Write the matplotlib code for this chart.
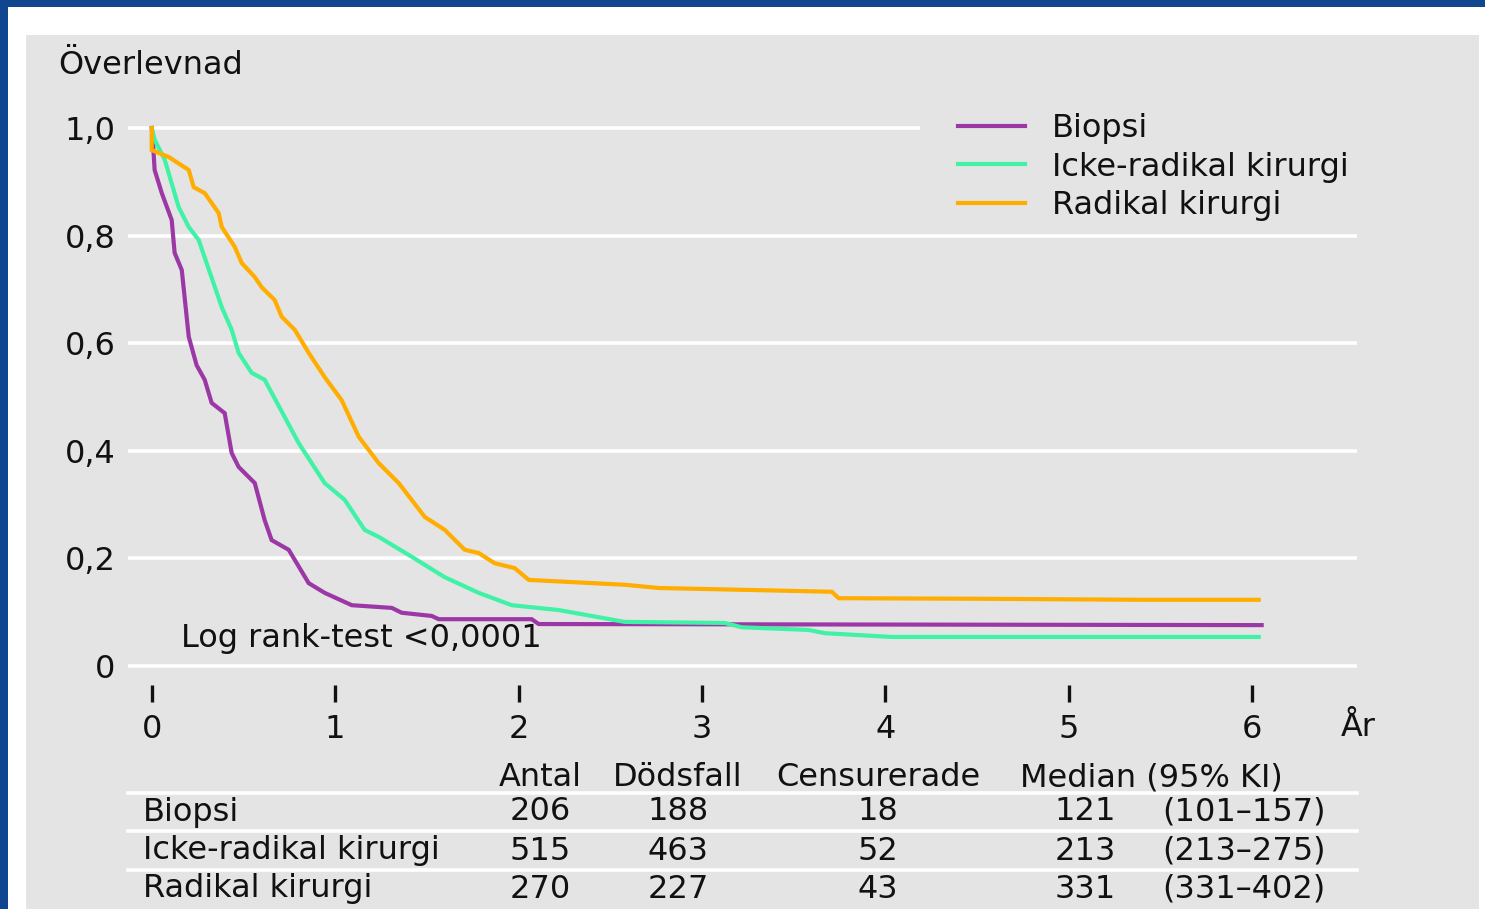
import matplotlib.pyplot as plt
from matplotlib.patches import Rectangle
from matplotlib.lines import Line2D

W, H = 1485, 909

# Kaplan-Meier curves (time in years, survival fraction)
biopsi_t = [0, 0.005, 0.016, 0.055, 0.109, 0.125, 0.164, 0.202, 0.245, 0.289, 0.327, 0.398,
            0.436, 0.474, 0.562, 0.616, 0.654, 0.747, 0.856, 0.943, 1.091, 1.309, 1.363,
            1.527, 1.565, 2.072, 2.110, 6.052]
biopsi_s = [1.000, 0.983, 0.922, 0.879, 0.829, 0.768, 0.736, 0.612, 0.559, 0.532, 0.489, 0.470,
            0.396, 0.370, 0.340, 0.271, 0.234, 0.216, 0.154, 0.136, 0.113, 0.108, 0.099,
            0.093, 0.087, 0.087, 0.078, 0.076]

icke_t = [0, 0.016, 0.071, 0.147, 0.202, 0.256, 0.382, 0.436, 0.474, 0.545, 0.616, 0.802,
          0.943, 1.052, 1.161, 1.238, 1.418, 1.598, 1.783, 1.963, 2.219, 2.579, 3.124,
          3.217, 3.582, 3.670, 4.035, 6.036]
icke_s = [1.000, 0.978, 0.941, 0.853, 0.816, 0.792, 0.667, 0.625, 0.582, 0.545, 0.532, 0.414,
          0.340, 0.309, 0.253, 0.240, 0.203, 0.165, 0.136, 0.113, 0.104, 0.082, 0.080,
          0.072, 0.067, 0.061, 0.054, 0.054]

radikal_t = [0, 0, 0.093, 0.202, 0.229, 0.289, 0.365, 0.382, 0.453, 0.491, 0.562, 0.600,
             0.671, 0.709, 0.780, 0.856, 0.943, 1.036, 1.129, 1.238, 1.347, 1.489, 1.598,
             1.707, 1.783, 1.870, 1.979, 2.056, 2.579, 2.764, 3.708, 3.746, 4.509, 5.414, 6.036]
radikal_s = [1.000, 0.959, 0.946, 0.922, 0.890, 0.879, 0.842, 0.816, 0.779, 0.749, 0.723, 0.704,
             0.680, 0.649, 0.625, 0.582, 0.537, 0.494, 0.426, 0.377, 0.340, 0.277, 0.253,
             0.216, 0.210, 0.191, 0.182, 0.160, 0.151, 0.145, 0.138, 0.126, 0.125, 0.123, 0.123]

groups = ['Biopsi', 'Icke-radikal kirurgi', 'Radikal kirurgi']
colors = ['#9c38a6', '#3ff2a6', '#ffad00']

yticks = [0, 0.2, 0.4, 0.6, 0.8, 1.0]
ytick_labels = ['0', '0,2', '0,4', '0,6', '0,8', '1,0']
xticks = [0, 1, 2, 3, 4, 5, 6]

# table under the plot
col_heads = ['Antal', 'Dödsfall', 'Censurerade']
antal = [206, 515, 270]
dodsfall = [188, 463, 227]
censurerade = [18, 52, 43]
median = [121, 213, 331]
ki = ['(101–157)', '(213–275)', '(331–402)']

FS = 23
TXT = '#111111'


def fx(px):
    return px / W


def fy(py):
    return 1 - py / H


fig = plt.figure(figsize=(W / 100, H / 100), dpi=100)
fig.patch.set_facecolor('#10458f')
fig.patches.append(Rectangle((fx(8), 0), fx(W), fy(7), transform=fig.transFigure,
                             facecolor='white', edgecolor='none', zorder=-3))
fig.patches.append(Rectangle((fx(26), 0), fx(1479) - fx(26), fy(35), transform=fig.transFigure,
                             facecolor='#e4e4e4', edgecolor='none', zorder=-2))

# axes: 0 yr at x=151.7px, 183.4 px per year; S=0 at y=666px, 538 px per unit
ax = fig.add_axes([fx(128), fy(702), fx(1357) - fx(128), fy(100) - fy(702)])
ax.set_facecolor('none')
ax.set_xlim((128 - 151.7) / 183.4, (1357 - 151.7) / 183.4)
ax.set_ylim((666 - 702) / 538, (666 - 100) / 538)
for s in ax.spines.values():
    s.set_visible(False)

for y in yticks:
    ax.axhline(y, color='white', lw=2.6, zorder=0,
               xmax=0.643 if y == 1.0 else 1)

lines = []
for t, s, c, g in zip([biopsi_t, icke_t, radikal_t], [biopsi_s, icke_s, radikal_s], colors, groups):
    ln, = ax.plot(t, s, color=c, lw=3, label=g, solid_joinstyle='miter')
    lines.append(ln)

ax.set_xticks(xticks)
ax.set_xticklabels([str(v) for v in xticks], fontsize=FS, color=TXT)
ax.tick_params(axis='x', direction='in', length=12, width=2.4, color=TXT, pad=8.5)
ax.set_yticks(yticks)
ax.set_yticklabels(ytick_labels, fontsize=FS, color=TXT)
ax.tick_params(axis='y', length=0, pad=9)

leg = ax.legend(handles=lines, loc='upper left', bbox_to_anchor=(fx(958), fy(113)),
                bbox_transform=fig.transFigure, frameon=False, fontsize=FS, borderpad=0,
                borderaxespad=0, handlelength=67 / 32, handletextpad=27 / 32, labelspacing=0.24)
for t in leg.get_texts():
    t.set_color(TXT)

fig.text(fx(58), fy(66), 'Överlevnad', fontsize=FS, va='center', ha='left', color=TXT)
fig.text(fx(1358), fy(727), 'År', fontsize=FS, va='center', ha='center', color=TXT)
fig.text(fx(181), fy(638), 'Log rank-test <0,0001', fontsize=FS, va='center', ha='left', color=TXT)

# table
head_y = 778
row_y = [812, 851, 889]
line_y = [793, 831, 870]
col_x = [540, 678, 878]
for x, h in zip(col_x, col_heads):
    fig.text(fx(x), fy(head_y), h, fontsize=FS, ha='center', va='center', color=TXT)
fig.text(fx(1020), fy(head_y), 'Median (95% KI)', fontsize=FS, ha='left', va='center', color=TXT)
for ly in line_y:
    fig.add_artist(Line2D([fx(128), fx(1357)], [fy(ly), fy(ly)], color='white', lw=2.6))
for i, g in enumerate(groups):
    yy = fy(row_y[i])
    fig.text(fx(143), yy, g, fontsize=FS, ha='left', va='center', color=TXT)
    fig.text(fx(col_x[0]), yy, str(antal[i]), fontsize=FS, ha='center', va='center', color=TXT)
    fig.text(fx(col_x[1]), yy, str(dodsfall[i]), fontsize=FS, ha='center', va='center', color=TXT)
    fig.text(fx(col_x[2]), yy, str(censurerade[i]), fontsize=FS, ha='center', va='center', color=TXT)
    fig.text(fx(1085), yy, str(median[i]), fontsize=FS, ha='center', va='center', color=TXT)
    fig.text(fx(1162), yy, ki[i], fontsize=FS, ha='left', va='center', color=TXT)

fig.savefig('out.png', dpi=100, facecolor=fig.get_facecolor())
